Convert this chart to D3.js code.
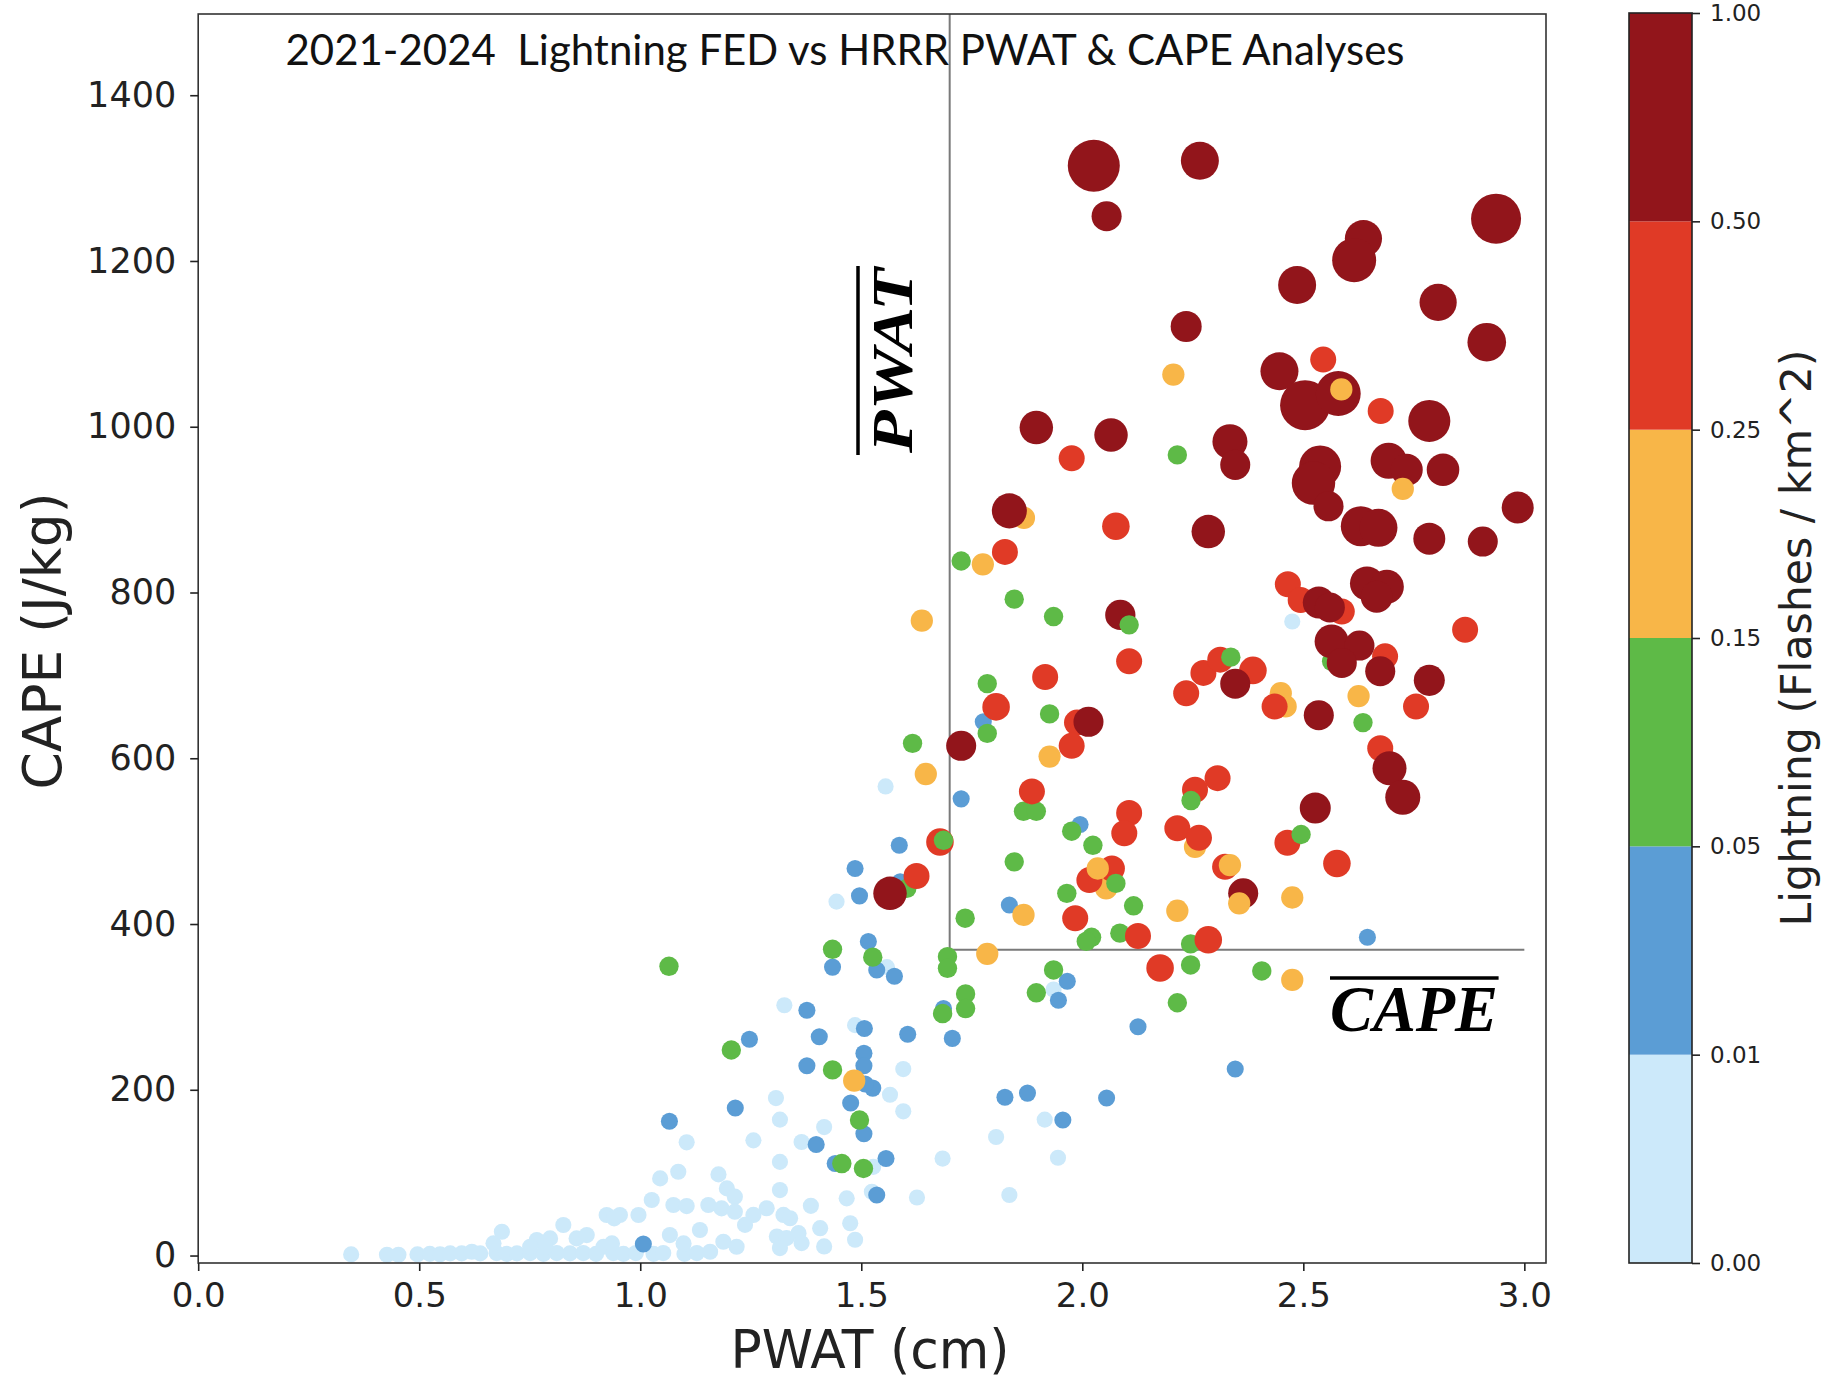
<!DOCTYPE html>
<html lang="en">
<head>
<meta charset="utf-8">
<title>Lightning FED vs HRRR PWAT &amp; CAPE</title>
<script src="https://cdn.jsdelivr.net/npm/d3@7"></script>
<style>
  body { margin: 0; background: #fff; }
  .axis line { stroke: #222; stroke-width: 1.6; }
  .lbl { font-family: "DejaVu Sans", sans-serif; fill: #222; }
</style>
</head>
<body>
<script>
// tick labels / colour classes
const xTicks = [0, 0.5, 1, 1.5, 2, 2.5, 3];
const yTicks = [0, 200, 400, 600, 800, 1000, 1200, 1400];
const fedBounds = ["0.00", "0.01", "0.05", "0.15", "0.25", "0.50", "1.00"];
const fedColors = ["#cce9fa", "#5b9dd5", "#5eba47", "#f8b648", "#e03a26", "#92151b"];
const pwatMean = 1.70, capeMean = 369;

// points [pwat, cape(, fed)], grouped by FED class
const lightBlue = [
  [0.346,1.4],[0.427,1],[0.453,1],[0.496,1.4],[0.524,2],[0.547,1.5],[0.570,2.6],[0.596,2.6],[0.619,4.6],[0.638,2.6],
  [0.675,3],[0.698,2],[0.721,2.6],[0.751,3],[0.781,2],[0.811,3],[0.841,2.6],[0.871,3],[0.900,2],[0.939,3],
  [0.962,2],[0.990,3],[1.030,2],[1.052,3],[1.100,2],[1.128,3],[1.158,4.6],[1.188,16.6],[1.218,10.6],
  [0.668,14.7],[0.687,28.7],[0.766,18.7],[0.796,20.7],[0.826,36.8],[0.856,20.7],[0.879,24.7],[0.785,10.6],[0.751,10.6],
  [0.917,10.6],[0.936,14.6],[0.924,48.9],[0.954,48.9],[0.941,44.9],[0.996,48.9],[1.026,67],[1.045,93.1],[1.086,101.1],
  [1.105,136.6],[1.075,61],[1.105,59.7],[1.154,61],[1.177,97.9],[1.196,81],[1.214,71],[1.184,56.9],[1.214,52.9],
  [1.135,30.8],[1.067,24.7],[1.098,14.6],
  [1.444,427],[1.555,566],[2.475,765],[1.558,348],[1.326,302],[1.486,278],[1.595,225],[1.307,190],[1.565,194],
  [1.595,174],[1.316,164],[1.416,155],[1.256,139],[1.365,137],[1.805,143],[1.316,113],[1.527,107],[1.684,117],
  [1.835,73],[1.626,70],[1.524,77],[1.467,69],[1.316,79],[1.286,57],[1.256,49],[1.237,37],[1.324,49],[1.339,45],
  [1.386,60],[1.407,33],[1.475,39],[1.486,19],[1.416,11],[1.309,23],[1.331,21],[1.358,27],[1.365,15],[1.316,9],
  [1.935,321],[1.915,164],[1.945,118]
];
const blue = [
  [1.776,644],[1.726,551],[1.995,520],[1.586,495],[1.486,467],[1.588,451],[1.496,434],[1.835,423],[1.516,379],
  [1.435,348],[1.535,344.5],[1.575,337],[1.377,296],[1.247,261],[1.405,264],[1.507,274],[1.605,267],[1.706,262],
  [1.506,244],[1.506,229],[1.377,229],[1.526,202],[1.509,207],[1.476,184],[1.825,191],[1.876,196],[2.055,190],
  [1.506,147],[1.398,134],[1.441,111],[1.556,117],[1.535,73],[1.066,162],[1.215,178],[1.007,14],[2.645,384],
  [1.966,331],[1.946,308],[2.126,276],[2.346,225],[1.956,163.5],[1.686,298]
];
const green = [
  [2.215,966],[1.726,838],[1.846,792],[1.935,771],[2.564,717],[2.635,643],[1.785,690],[1.926,653.5],[1.785,630],
  [1.616,618],[1.867,536],[1.896,536],[1.976,512],[2.024,495],[1.846,475],[1.965,437],[1.603,443],[2.116,422],
  [1.735,407],[2.021,384],[2.009,379],[2.085,389],[2.245,376],[2.245,350.6],[1.935,344.6],[1.896,317],[2.215,305],
  [2.406,343.4],[1.695,360.6],[1.695,346.6],[1.736,315.6],[1.736,298],[1.684,292],[1.435,369.5],[1.526,360],
  [1.065,349],[1.206,248],[1.435,224],[1.496,163.5],[1.456,111],[1.505,105]
];
const orange = [
  [2.206,1063],[1.868,890],[1.775,834],[1.637,766],[2.449,678.5],[2.460,662.5],[2.625,675],[1.926,602],[1.646,581],
  [2.255,493],[2.054,443],[2.475,432],[2.215,416],[1.867,411],[2.475,332.5],[1.785,364],[1.484,211]
];
const red = [
  [2.545,1081],[2.675,1019],[1.976,962],[2.076,880,0.42],[1.825,849],[2.465,810],[2.494,791],[2.587,777],[2.866,755],
  [2.106,717],[2.685,723],[2.755,662.5],[2.274,703],[2.312,719],[2.386,706,0.42],[2.235,678.5],[2.435,662.5],
  [2.674,612],[2.306,576],[2.255,562],[2.106,534],[2.095,509.5],[2.215,515.6],[2.264,504],[2.464,498],
  [2.576,473,0.42],[2.323,469],[2.067,467],[2.016,453],[1.984,407],[1.916,698],[1.805,662,0.42],[1.988,643],
  [1.976,615],[1.886,560],[1.678,499,0.42],[1.625,458],[2.126,385.6],[2.285,381,0.42],[2.176,347,0.42]
];
const darkRed = [
  [2.026,1315,2.04],[2.266,1321,0.99],[2.055,1254,0.54],[2.936,1251,1.87],[2.636,1227,0.94],[2.615,1201,1.40],
  [2.486,1171,0.99],[2.805,1150,0.94],[2.235,1121,0.59],[2.915,1102,1.03],[2.446,1067,0.99],[2.504,1026,1.87],
  [2.579,1040,1.47],[2.785,1007,1.26],[1.896,999,0.72],[2.065,990,0.72],[2.334,982,0.81],[2.346,954,0.54],
  [2.538,952,1.26],[2.523,932,1.36],[2.557,904,0.54],[2.693,959,0.87],[2.734,948,0.64],[2.816,948,0.67],
  [2.985,902.5,0.64],[1.835,898.5,0.81],[2.285,873.5,0.72],[2.63,880,1.12],[2.67,878,0.99],[2.785,865,0.64],
  [2.906,861.5,0.54],[2.644,811,0.75],[2.689,807,0.75],[2.666,795,0.64],[2.535,788,0.64],[2.56,782,0.54],
  [2.086,773,0.55],[2.564,741,0.75],[2.627,736,0.54],[2.587,715,0.54],[2.674,705,0.54],[2.346,690,0.54],
  [2.785,694,0.59],[2.014,644,0.54],[1.726,615,0.54],[2.535,652,0.54],[2.695,588,0.75],[2.725,553,0.81],
  [2.527,540,0.59],[2.364,437,0.54],[1.565,437,0.72]
];
// a few small markers that sit on top of bigger ones
const drawnLast = [
  [2.586,1045,0.2],[2.725,925,0.2],[2.355,425,0.2],[2.334,471,0.2],[2.035,467,0.2],[2.106,761,0.1],
  [1.686,501,0.1],[2.336,722,0.1],[2.246,549,0.1],[2.495,508,0.1],[2.076,449,0.1]
];

const groups = [[lightBlue, 0.004], [blue, 0.03], [green, 0.1], [orange, 0.2], [red, 0.35], [darkRed, null], [drawnLast, null]];
const rows = groups.flatMap(([arr, f]) => arr.map(p => ({pwat: p[0], cape: p[1], fed: p[2] ?? f})));

const W = 1828, H = 1382;
const M = {left: 198.2, right: 1546, top: 14, bottom: 1263};
const CB = {left: 1629, right: 1692, top: 13, bottom: 1263};

const svg = d3.select("body").append("svg").attr("width", W).attr("height", H);

const x = d3.scaleLinear().domain([0, 3.049]).range([M.left, M.right]);
const y = d3.scaleLinear().domain([-9, 1498]).range([M.bottom, M.top]);
const color = d3.scaleThreshold().domain([0.01, 0.05, 0.15, 0.25, 0.5]).range(fedColors);
const area = d3.scaleLinear().domain([0, 1]).range([64, 364]);   // r^2 grows with FED

// mean lines
svg.append("path")
  .attr("d", `M${x(pwatMean)},${y(1498)}V${y(capeMean)}H${x(3.0)}`)
  .attr("fill", "none").attr("stroke", "#7a7a7a").attr("stroke-width", 2);

// points
svg.append("g").selectAll("circle").data(rows).join("circle")
  .attr("cx", d => x(d.pwat))
  .attr("cy", d => y(d.cape))
  .attr("r", d => Math.sqrt(area(d.fed)))
  .attr("fill", d => color(d.fed));

// frame
svg.append("rect").attr("x", M.left).attr("y", M.top)
  .attr("width", M.right - M.left).attr("height", M.bottom - M.top)
  .attr("fill", "none").attr("stroke", "#333").attr("stroke-width", 1.6);

// axes
svg.append("g").attr("class", "axis").attr("transform", `translate(0,${M.bottom})`)
  .call(d3.axisBottom(x).tickValues(xTicks).tickFormat(d3.format(".1f")).tickSize(8).tickPadding(12).tickSizeOuter(0))
  .call(g => g.select(".domain").remove())
  .attr("font-size", 34).attr("font-family", "DejaVu Sans").style("color", "#222");

svg.append("g").attr("class", "axis").attr("transform", `translate(${M.left},0)`)
  .call(d3.axisLeft(y).tickValues(yTicks).tickFormat(d3.format("d")).tickSize(8).tickPadding(14).tickSizeOuter(0))
  .call(g => g.select(".domain").remove())
  .attr("font-size", 35).attr("font-family", "DejaVu Sans").style("color", "#222");

// axis titles
svg.append("text").attr("class", "lbl")
  .attr("x", 870).attr("y", 1368).attr("text-anchor", "middle")
  .attr("font-size", 54).attr("textLength", 279).attr("lengthAdjust", "spacingAndGlyphs")
  .text("PWAT (cm)");

svg.append("text").attr("class", "lbl")
  .attr("transform", "translate(61,641) rotate(-90)").attr("text-anchor", "middle")
  .attr("font-size", 54).attr("textLength", 297).attr("lengthAdjust", "spacingAndGlyphs")
  .text("CAPE (J/kg)");

// title
svg.append("text")
  .attr("x", 845).attr("y", 65).attr("text-anchor", "middle")
  .attr("font-family", "Lato, 'Open Sans', sans-serif").attr("font-size", 42).attr("fill", "#111")
  .attr("textLength", 1119).attr("lengthAdjust", "spacingAndGlyphs")
  .style("white-space", "pre")
  .text("2021-2024  Lightning FED vs HRRR PWAT & CAPE Analyses");

// mean labels with overbars
const serif = "'Liberation Serif', 'DejaVu Serif', serif";
svg.append("text")
  .attr("transform", "translate(912,360.5) rotate(-90)").attr("text-anchor", "middle")
  .attr("font-family", serif).attr("font-weight", "bold").attr("font-style", "italic")
  .attr("font-size", 58).attr("textLength", 185).attr("lengthAdjust", "spacingAndGlyphs")
  .text("PWAT");
svg.append("line").attr("x1", 858).attr("x2", 858).attr("y1", 266).attr("y2", 455)
  .attr("stroke", "#000").attr("stroke-width", 3.5);

svg.append("text")
  .attr("x", 1414).attr("y", 1030.5).attr("text-anchor", "middle")
  .attr("font-family", serif).attr("font-weight", "bold").attr("font-style", "italic")
  .attr("font-size", 66).attr("textLength", 168).attr("lengthAdjust", "spacingAndGlyphs")
  .text("CAPE");
svg.append("line").attr("x1", 1330).attr("x2", 1498.6).attr("y1", 978).attr("y2", 978)
  .attr("stroke", "#000").attr("stroke-width", 3.5);

// colour bar
const cb = d3.scalePoint().domain(fedBounds).range([CB.bottom, CB.top]);
svg.append("g").selectAll("rect").data(fedColors).join("rect")
  .attr("x", CB.left).attr("width", CB.right - CB.left)
  .attr("y", (c, i) => cb(fedBounds[i + 1]))
  .attr("height", (c, i) => cb(fedBounds[i]) - cb(fedBounds[i + 1]))
  .attr("fill", c => c);
svg.append("rect").attr("x", CB.left).attr("y", CB.top)
  .attr("width", CB.right - CB.left).attr("height", CB.bottom - CB.top)
  .attr("fill", "none").attr("stroke", "#222").attr("stroke-width", 1.6);
svg.append("g").attr("class", "axis").attr("transform", `translate(${CB.right},0)`)
  .call(d3.axisRight(cb).tickSize(8).tickPadding(10).tickSizeOuter(0))
  .call(g => g.select(".domain").remove())
  .attr("font-size", 23).attr("font-family", "DejaVu Sans").style("color", "#222");

svg.append("text").attr("class", "lbl")
  .attr("transform", "translate(1811,638) rotate(-90)").attr("text-anchor", "middle")
  .attr("font-size", 43).attr("textLength", 577).attr("lengthAdjust", "spacingAndGlyphs")
  .text("Lightning (Flashes / km^2)");
</script>
</body>
</html>
